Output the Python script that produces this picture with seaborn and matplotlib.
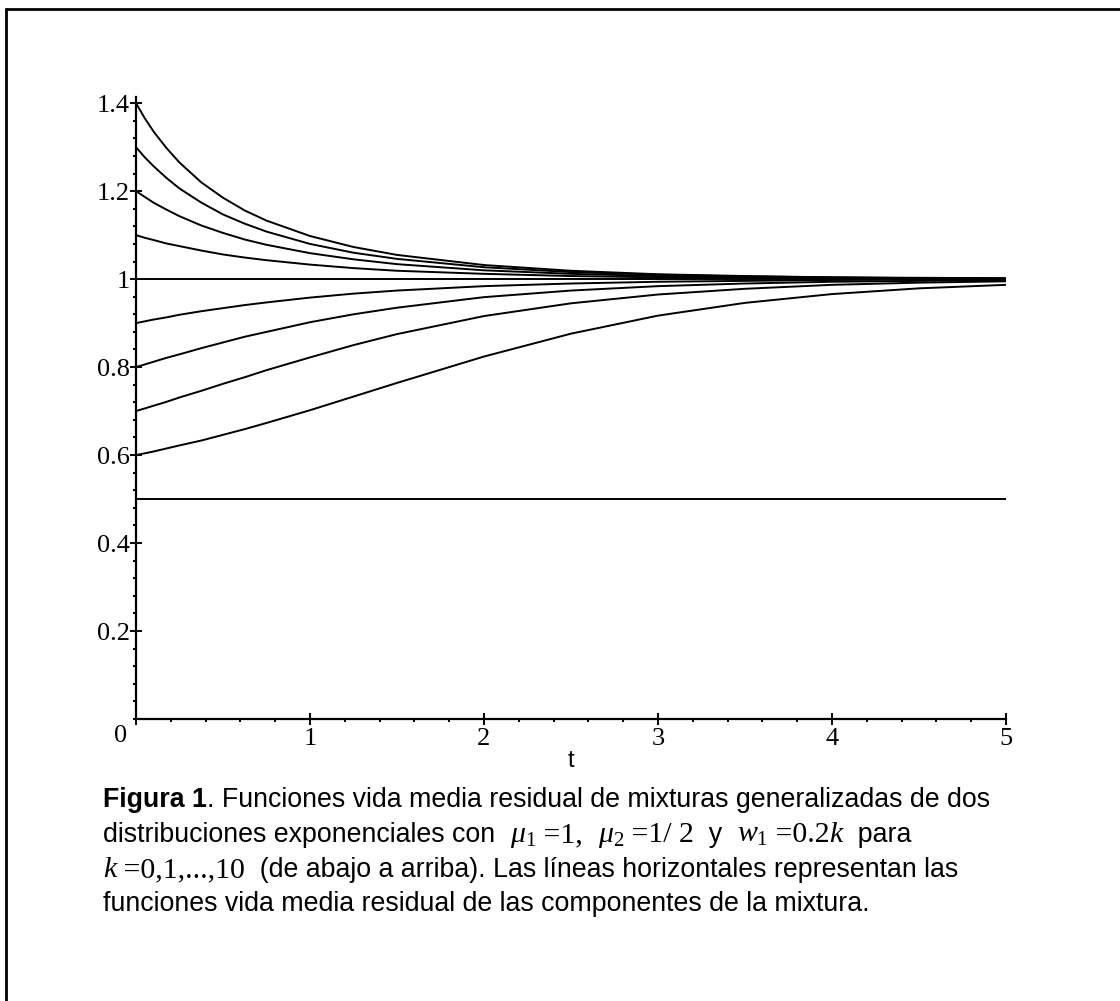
import numpy as np
import pandas as pd
import matplotlib
matplotlib.use('Agg')
import matplotlib.pyplot as plt
import matplotlib.transforms as mtransforms
from matplotlib.lines import Line2D
from matplotlib.ticker import MultipleLocator, FixedLocator
import seaborn as sns

# ── Data: residual mean life ─────────────────────────────────
t_values = [0, 0.05, 0.1, 0.175, 0.25, 0.375, 0.5, 0.625, 0.75, 1, 1.25, 1.5,
            2, 2.5, 3, 3.5, 4, 4.5, 5]

mrl_k0 = [0.5, 0.5, 0.5, 0.5, 0.5, 0.5, 0.5, 0.5, 0.5, 0.5, 0.5, 0.5,
          0.5, 0.5, 0.5, 0.5, 0.5, 0.5, 0.5]
mrl_k1 = [0.600, 0.604, 0.608, 0.615, 0.622, 0.633, 0.646, 0.659, 0.673, 0.702,
          0.733, 0.764, 0.824, 0.876, 0.917, 0.946, 0.966, 0.979, 0.987]
mrl_k2 = [0.700, 0.706, 0.712, 0.721, 0.731, 0.746, 0.762, 0.777, 0.793, 0.822,
          0.850, 0.875, 0.916, 0.945, 0.965, 0.978, 0.987, 0.992, 0.995]
mrl_k3 = [0.800, 0.806, 0.812, 0.821, 0.829, 0.843, 0.856, 0.869, 0.880, 0.902,
          0.920, 0.935, 0.959, 0.974, 0.984, 0.990, 0.994, 0.996, 0.998]
mrl_k4 = [0.900, 0.904, 0.908, 0.913, 0.919, 0.927, 0.934, 0.941, 0.947, 0.958,
          0.967, 0.974, 0.984, 0.990, 0.994, 0.996, 0.998, 0.999, 0.999]
mrl_k5 = [1.0, 1.0, 1.0, 1.0, 1.0, 1.0, 1.0, 1.0, 1.0, 1.0, 1.0, 1.0,
          1.0, 1.0, 1.0, 1.0, 1.0, 1.0, 1.0]
mrl_k6 = [1.100, 1.094, 1.089, 1.081, 1.075, 1.065, 1.056, 1.049, 1.043, 1.033,
          1.025, 1.019, 1.012, 1.007, 1.004, 1.003, 1.002, 1.001, 1.001]
mrl_k7 = [1.200, 1.187, 1.174, 1.158, 1.143, 1.122, 1.105, 1.090, 1.078, 1.059,
          1.045, 1.034, 1.020, 1.012, 1.007, 1.004, 1.003, 1.002, 1.001]
mrl_k8 = [1.300, 1.277, 1.257, 1.230, 1.206, 1.174, 1.147, 1.126, 1.108, 1.080,
          1.060, 1.046, 1.027, 1.016, 1.010, 1.006, 1.004, 1.002, 1.001]
mrl_k9 = [1.400, 1.366, 1.336, 1.298, 1.265, 1.220, 1.185, 1.156, 1.133, 1.098,
          1.073, 1.055, 1.032, 1.019, 1.011, 1.007, 1.004, 1.003, 1.002]

series = [mrl_k0, mrl_k1, mrl_k2, mrl_k3, mrl_k4,
          mrl_k5, mrl_k6, mrl_k7, mrl_k8, mrl_k9]

y_ticks = [0.2, 0.4, 0.6, 0.8, 1.0, 1.2, 1.4]
y_tick_labels = ['0.2', '0.4', '0.6', '0.8', '1', '1.2', '1.4']
x_ticks = [0, 1, 2, 3, 4, 5]
x_tick_labels = ['0', '1', '2', '3', '4', '5']

df = pd.concat(
    [pd.DataFrame({'t': t_values, 'mrl': vals, 'k': k}) for k, vals in enumerate(series)],
    ignore_index=True,
)

# ── Style ────────────────────────────────────────────────────
sns.set_theme(style='ticks')
plt.rcParams.update({
    'font.family'        : ['Liberation Sans', 'DejaVu Sans'],
    'mathtext.fontset'   : 'custom',
    'mathtext.rm'        : 'Liberation Serif',
    'mathtext.it'        : 'Liberation Serif:italic',
    'axes.spines.top'    : False,
    'axes.spines.right'  : False,
})

W, H = 1120, 1001
fig = plt.figure(figsize=(W / 100, H / 100), dpi=100)
fig.patch.set_facecolor('white')

# axes: x 0..5 -> px 136..1006 ; y 0 -> px 719, 440 px per unit
ax = fig.add_axes([136 / W, (H - 719) / H, 870 / W, 622 / H])
ax.set_facecolor('white')

sns.lineplot(data=df, x='t', y='mrl', units='k', estimator=None,
             color='black', linewidth=1.4, ax=ax, legend=False)

ax.set_xlim(0, 5)
ax.set_ylim(0, 1.414)
for side in ['left', 'bottom']:
    ax.spines[side].set_color('black')
    ax.spines[side].set_linewidth(1.6)

tick_font = {'family': 'Liberation Serif', 'size': 19}
ax.xaxis.set_major_locator(FixedLocator(x_ticks))
ax.set_xticklabels(x_tick_labels, fontdict=tick_font)
ax.yaxis.set_major_locator(FixedLocator(y_ticks))
ax.set_yticklabels(y_tick_labels, fontdict=tick_font)
ax.xaxis.set_minor_locator(MultipleLocator(0.2))
ax.yaxis.set_minor_locator(MultipleLocator(0.04))
ax.tick_params(which='major', direction='inout', length=9, width=1.4,
               color='black', labelcolor='black')
ax.tick_params(axis='x', which='major', pad=2)
ax.tick_params(axis='y', which='major', pad=0)
ax.tick_params(which='minor', direction='out', length=2.5, width=1.4, color='black')

# the "0" label sits left of the origin
zero_lbl = ax.get_xticklabels()[0]
zero_lbl.set_transform(zero_lbl.get_transform() +
                       mtransforms.ScaledTranslation(-15 / 100, 3 / 100, fig.dpi_scale_trans))

ax.set_xlabel('t', fontsize=17, labelpad=0, color='black')
ax.set_ylabel('')

# ── Caption (text in Arial-like, formulas in Times-like) ─────
TXT = dict(fontsize=19.3, family='Liberation Sans')
BLD = dict(fontsize=19.3, family='Liberation Sans', fontweight='bold')
MTH = dict(fontsize=21.5)
SRF = dict(fontsize=21.5, family='Liberation Serif')
SIT = dict(fontsize=21.5, family='Liberation Serif', style='italic')

caption = [
    (807, [('Figura 1', BLD),
           ('. Funciones vida media residual de mixturas generalizadas de dos', TXT)]),
    (842, [('distribuciones exponenciales con  ', TXT),
           (r'$\mu_1$', MTH), (' =1,  ', SRF),
           (r'$\mu_2$', MTH), (' =1/ 2', SRF),
           ('  y  ', TXT),
           (r'$w_1$', MTH), (' =0.2', SRF), ('k', SIT),
           ('  para', TXT)]),
    (877, [('k', SIT), (' =0,1,...,10', SRF),
           ('  (de abajo a arriba). Las líneas horizontales representan las', TXT)]),
    (911, [('funciones vida media residual de las componentes de la mixtura.', TXT)]),
]

fig.canvas.draw()
renderer = fig.canvas.get_renderer()
for y_px, segs in caption:
    x_px = 103
    for s, kw in segs:
        txt = fig.text(x_px / W, 1 - y_px / H, s, va='baseline', ha='left',
                       color='black', **kw)
        x_px = txt.get_window_extent(renderer).x1

# frame around the figure (left and top edges visible)
fig.add_artist(Line2D([6 / W, 6 / W], [0, 1 - 9 / H], transform=fig.transFigure,
                      color='black', linewidth=2))
fig.add_artist(Line2D([6 / W, 1], [1 - 9 / H, 1 - 9 / H], transform=fig.transFigure,
                      color='black', linewidth=2))

fig.savefig('out.png', dpi=100, facecolor='white')
